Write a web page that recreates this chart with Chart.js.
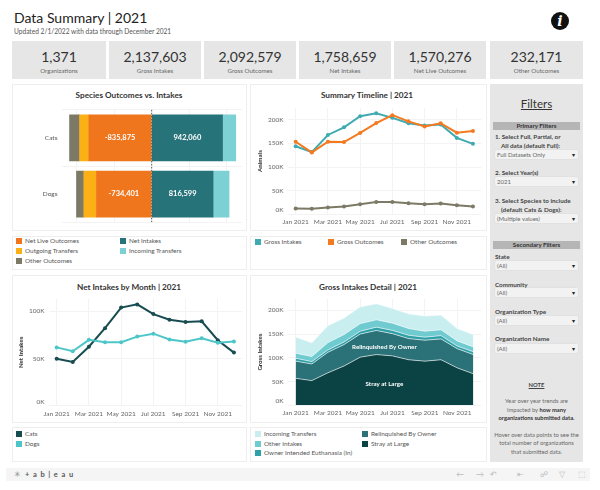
<!DOCTYPE html>
<html>
<head>
<meta charset="utf-8">
<title>Data Summary | 2021</title>
<script src="https://cdn.jsdelivr.net/npm/chart.js@4/dist/chart.umd.min.js"></script>
<style>
  html, body { margin: 0; padding: 0; background: #fff; }
  body { width: 600px; height: 490px; position: relative; overflow: hidden; font-family: Lato, sans-serif; color: #444; }
  .abs, .panel, .kpi, .txt, .drop, .bar, canvas, .leg { position: absolute; }
  canvas { display: block; }
  .panel { border: 1px solid #eee; box-sizing: border-box; background: #fff; }
  .kpi { background: #e6e6e6; top: 41px; height: 38px; text-align: center; }
  .kpi b { display: block; font-weight: 400; font-size: 14px; line-height: 16px; margin-top: 8px; color: #333; }
  .kpi span { display: block; font-size: 6.2px; line-height: 9px; margin-top: 1px; color: #666; }
  .ptitle { position: absolute; font-size: 8.2px; font-weight: 700; color: #333; text-align: center; transform: translateX(-50%); white-space: nowrap; line-height: 12px; }
  .leg { font-size: 6.4px; line-height: 10px; color: #555; white-space: nowrap; padding-left: 9px; }
  .leg i { position: absolute; left: 0; top: 2px; width: 6px; height: 6px; }
  .txt { font-size: 7px; line-height: 9px; white-space: nowrap; color: #333; }
  .filters { position: absolute; left: 490px; top: 84px; width: 93px; height: 378px; background: #e6e6e6; }
  .bar { left: 493px; width: 87px; height: 8px; background: #b5b5b5; font-size: 6.2px; line-height: 8px; text-align: center; color: #333; font-weight: 700; }
  .drop { left: 495px; width: 83px; height: 9px; background: #f2f2f2; border-radius: 1px; box-shadow: 0 0 1px #bbb; font-size: 6px; line-height: 9px; color: #666; text-indent: 2px; }
  .drop::after { content: "\25BE"; position: absolute; right: 3px; top: 0; color: #222; font-size: 6px; }
  .lab { font-weight: 700; font-size: 6.3px; color: #444; }
  .note { left: 490px; width: 93px; text-align: center; font-size: 5.8px; color: #666; }
  .toolbar { position: absolute; left: 6px; top: 468px; width: 584px; height: 13px; background: #f5f5f5; }
</style>
</head>
<body>
<script>
// Data
const months = ['Jan 2021', 'Feb 2021', 'Mar 2021', 'Apr 2021', 'May 2021', 'Jun 2021', 'Jul 2021', 'Aug 2021', 'Sep 2021', 'Oct 2021', 'Nov 2021', 'Dec 2021'];
const species = ['Cats', 'Dogs'];

const netLiveOutcomes = [-835875, -734401];
const outgoingTransfers = [-124000, -169000];
const otherOutcomesBySpecies = [-133000, -97000];
const netIntakes = [942060, 816599];
const incomingBySpecies = [176000, 213000];

const grossIntakes = [143800, 131500, 167800, 184000, 207500, 213700, 204000, 192500, 188000, 190000, 161600, 149000];
const grossOutcomes = [153400, 130800, 153400, 152700, 172000, 193000, 209600, 196600, 185600, 192500, 172600, 176000];
const otherOutcomes = [12300, 11600, 14400, 16400, 21200, 26000, 26000, 23300, 21200, 22600, 19200, 16400];

const catsNet = [49700, 46200, 62400, 82000, 103800, 107200, 96900, 91000, 88600, 89300, 69300, 56200];
const dogsNet = [61700, 57600, 69700, 67200, 67200, 73100, 76200, 70000, 67600, 71400, 66600, 67900];

const strayAtLarge = [56800, 52000, 68500, 82900, 101400, 106800, 104000, 95900, 93000, 95900, 78800, 66400];
const relinquished = [36200, 35000, 43100, 45100, 48600, 50700, 46700, 44500, 44000, 43800, 40400, 40400];
const ownerEuthanasia = [6000, 5000, 5000, 5500, 6000, 7000, 7000, 7000, 6500, 7000, 5500, 6000];
const otherIntakes = [10600, 10700, 15400, 15500, 16000, 15500, 15300, 14200, 12500, 12300, 10900, 10200];
const incomingTransfers = [34200, 28800, 35800, 35000, 35500, 33700, 31000, 30900, 32000, 31000, 26000, 26000];

const ticks200K = [0, 50000, 100000, 150000, 200000];
const ticks100K = [0, 50000, 100000];
const ticksSpecies = [-1000000, -500000, 0, 500000, 1000000];

const kpis = [
  ['1,371', 'Organizations'], ['2,137,603', 'Gross Intakes'], ['2,092,579', 'Gross Outcomes'],
  ['1,758,659', 'Net Intakes'], ['1,570,276', 'Net Live Outcomes'], ['232,171', 'Other Outcomes']
];

const FONT = 'Lato, sans-serif';
const GRID = '#f3f3f3';
const TICK = '#666';
const C = {
  orange: '#f0761e', yellow: '#fbb116', olive: '#7c7a66', teal: '#27737a', aqua: '#7dd0d4',
  line: '#3fabb0', lineOrange: '#f47920', cats: '#174c50', dogs: '#4dc6c9',
  stray: '#0b4345', relinq: '#2a7278', owner: '#2fa0a8', otherIn: '#6fcbd0', incoming: '#c9eef0'
};

function el(cls, css, html) {
  const d = document.createElement('div');
  d.className = cls;
  d.style.cssText = css;
  if (html) d.innerHTML = html;
  document.body.appendChild(d);
  return d;
}
function addCanvas(id, l, t, w, h) {
  const c = document.createElement('canvas');
  c.id = id;
  c.width = w; c.height = h;
  c.style.cssText = `left:${l}px;top:${t}px;width:${w}px;height:${h}px`;
  document.body.appendChild(c);
  return c;
}

// Header
el('txt', 'left:14px;top:7px;font-size:14px;line-height:22px;color:#222;font-weight:400', 'Data Summary | 2021');
el('txt', 'left:14px;top:27px;font-size:6.6px;line-height:9px;color:#555', 'Updated 2/1/2022 with data through December 2021');
el('abs', 'left:551px;top:12px;width:18px;height:18px;border-radius:50%;background:#111;color:#fff;text-align:center;font:italic bold 14px/18px "DejaVu Serif",serif', 'i');

const kpiX = [[12, 94], [109, 92], [204, 92], [299, 92], [394, 92], [490, 93]];
kpis.forEach((k, i) => {
  el('kpi', `left:${kpiX[i][0]}px;width:${kpiX[i][1]}px`, `<b>${k[0]}</b><span>${k[1]}</span>`);
});

// Panels
[[12, 84, 235, 147], [250, 84, 237, 147], [12, 236, 235, 34], [250, 236, 237, 34],
 [12, 275, 235, 148], [250, 275, 237, 148], [12, 427, 235, 35], [250, 427, 237, 35]].forEach(p => {
  el('panel', `left:${p[0]}px;top:${p[1]}px;width:${p[2]}px;height:${p[3]}px`);
});

el('ptitle', 'left:129px;top:89px', 'Species Outcomes vs. Intakes');
el('ptitle', 'left:367px;top:89px', 'Summary Timeline | 2021');
el('ptitle', 'left:129px;top:281px', 'Net Intakes by Month | 2021');
el('ptitle', 'left:368px;top:281px', 'Gross Intakes Detail | 2021');

// Legends
function legend(x, y, color, text) {
  el('leg', `left:${x}px;top:${y - 5}px`, `<i style="background:${color}"></i>${text}`);
}
legend(16, 241, C.orange, 'Net Live Outcomes');
legend(16, 251, C.yellow, 'Outgoing Transfers');
legend(16, 261, C.olive, 'Other Outcomes');
legend(120, 241, C.teal, 'Net Intakes');
legend(120, 251, C.aqua, 'Incoming Transfers');
legend(255, 242, C.line, 'Gross Intakes');
legend(328, 242, C.lineOrange, 'Gross Outcomes');
legend(401, 242, C.olive, 'Other Outcomes');
legend(16, 434, C.cats, 'Cats');
legend(16, 444, C.dogs, 'Dogs');
legend(255, 434, C.incoming, 'Incoming Transfers');
legend(255, 444, C.otherIn, 'Other Intakes');
legend(255, 453, C.owner, 'Owner Intended Euthanasia (In)');
legend(362, 434, C.relinq, 'Relinquished By Owner');
legend(362, 444, C.stray, 'Stray at Large');

// Filters column
el('filters', '');
el('txt', 'left:490px;width:93px;top:96px;text-align:center;font-size:11.5px;line-height:16px;text-decoration:underline;color:#333', 'Filters');
function bar(y, t) { el('bar', `top:${y}px`, t); }
function lab(y, t, x) { el('txt lab', `left:${x || 495}px;top:${y - 4}px`, t); }
function drop(y, t) { el('drop', `top:${y}px`, t); }
bar(122, 'Primary Filters');
lab(136, '1. Select Full, Partial, or');
lab(145, 'All data (default Full):', 501);
drop(150, 'Full Datasets Only');
lab(172, '2. Select Year(s)');
drop(177, '2021');
lab(200, '3. Select Species to include');
lab(209, '(default Cats &amp; Dogs):', 501);
drop(214, '(Multiple values)');
bar(241, 'Secondary Filters');
lab(256, 'State');
drop(261, '(All)');
lab(284, 'Community');
drop(288, '(All)');
lab(311, 'Organization Type');
drop(316, '(All)');
lab(338, 'Organization Name');
drop(344, '(All)');
el('txt note', 'top:380px;text-decoration:underline;font-weight:700;color:#444', 'NOTE');
el('txt note', 'top:396px', 'Year over year trends are');
el('txt note', 'top:405px', 'impacted by <b style="color:#333">how many</b>');
el('txt note', 'top:413px;font-weight:700;color:#333', 'organizations submitted data.');
el('txt note', 'top:430px', 'Hover over data points to see the');
el('txt note', 'top:438px', 'total number of organizations');
el('txt note', 'top:447px', 'that submitted data.');

// Toolbar
el('toolbar', '');
el('txt', 'left:14px;top:469px;font-size:8px;line-height:11px;color:#888', '\u2733');
el('txt', 'left:25px;top:469px;font-size:7.5px;line-height:11px;letter-spacing:0.9px;color:#555;font-weight:700', '+ a b | e a u');
[[456, '\u2190'], [476, '\u2192'], [490, '\u21B6'], [517, '\u21E4'], [540, '\u260D'], [559, '\u25BD'], [578, '\u2B1A']].forEach(g => {
  el('txt', `left:${g[0]}px;top:469px;font-size:8px;line-height:11px;color:#bbb`, g[1]);
});

const chartBase = {
  responsive: false,
  animation: false,
  events: [],
  plugins: { legend: { display: false }, tooltip: { enabled: false } }
};

function yAxis(width, max, values, title, titlePad) {
  return {
    min: 0, max: max,
    grid: { color: GRID, drawTicks: false },
    border: { display: false },
    afterBuildTicks: s => { s.ticks = values.map(value => ({ value })); },
    ticks: {
      padding: 4,
      color: TICK, font: { family: FONT, size: 6.5 },
      // Tableau lifts the 0K label above the baseline
      callback: v => v === 0 ? ['0K', ''] : (v / 1000) + 'K'
    },
    title: { display: true, text: title, color: '#333', font: { family: FONT, size: 6.2, weight: '700' }, padding: { top: titlePad, bottom: 0 } },
    afterFit: s => { s.width = width; }
  };
}
function xAxis(height) {
  return {
    offset: true,
    grid: { color: GRID, drawTicks: false, offset: false, lineWidth: ctx => ctx.index % 2 ? 0 : 1 },
    border: { display: false },
    ticks: {
      autoSkip: false, maxRotation: 0, padding: 4, color: TICK, font: { family: FONT, size: 6.5 },
      callback: function (v, i) { return i % 2 ? '' : this.getLabelForValue(v); }
    },
    afterFit: s => { s.height = height; }
  };
}
function lineSet(label, data, color) {
  return { label, data, borderColor: color, backgroundColor: color, borderWidth: 2, pointRadius: 2, pointBorderWidth: 0, tension: 0 };
}

// Values printed on the diverging bars + dotted zero line
const barExtras = {
  id: 'barExtras',
  afterDatasetsDraw(chart) {
    const { ctx, chartArea, scales } = chart;
    const x0 = scales.x.getPixelForValue(0);
    ctx.save();
    ctx.strokeStyle = '#555';
    ctx.setLineDash([1.5, 1.5]);
    ctx.beginPath();
    ctx.moveTo(x0, chartArea.top);
    ctx.lineTo(x0, chartArea.bottom);
    ctx.stroke();
    ctx.setLineDash([]);
    ctx.fillStyle = '#fff';
    ctx.font = 'bold 7.5px ' + FONT;
    ctx.textAlign = 'center';
    ctx.textBaseline = 'middle';
    [0, 3].forEach(di => {
      chart.getDatasetMeta(di).data.forEach((b, i) => {
        const v = chart.data.datasets[di].data[i];
        ctx.fillText(v.toLocaleString('en-US'), (b.x + b.base) / 2, b.y);
      });
    });
    ctx.restore();
  }
};

new Chart(addCanvas('speciesChart', 14, 102, 231, 128), {
  type: 'bar',
  data: {
    labels: species,
    datasets: [
      { label: 'Net Live Outcomes', data: netLiveOutcomes, backgroundColor: C.orange },
      { label: 'Outgoing Transfers', data: outgoingTransfers, backgroundColor: C.yellow },
      { label: 'Other Outcomes', data: otherOutcomesBySpecies, backgroundColor: C.olive },
      { label: 'Net Intakes', data: netIntakes, backgroundColor: C.teal },
      { label: 'Incoming Transfers', data: incomingBySpecies, backgroundColor: C.aqua }
    ]
  },
  options: {
    ...chartBase,
    indexAxis: 'y',
    barThickness: 46,
    layout: { padding: { top: 2, right: 3.1 } },
    scales: {
      x: {
        stacked: true, min: -1200000, max: 1200000,
        grid: { color: GRID, drawTicks: false }, border: { display: false },
        afterBuildTicks: s => { s.ticks = ticksSpecies.map(value => ({ value })); },
        ticks: { display: false },
        afterFit: s => { s.height = 0; }
      },
      y: {
        stacked: true,
        grid: { color: GRID, drawTicks: false }, border: { display: false },
        ticks: { padding: 4, color: '#555', font: { family: FONT, size: 6.5 } },
        afterFit: s => { s.width = 47.5; }
      }
    }
  },
  plugins: [barExtras]
});

new Chart(addCanvas('timelineChart', 252, 100, 233, 130), {
  type: 'line',
  data: {
    labels: months,
    datasets: [
      lineSet('Other Outcomes', otherOutcomes, C.olive),
      lineSet('Gross Outcomes', grossOutcomes, C.lineOrange),
      lineSet('Gross Intakes', grossIntakes, C.line)
    ]
  },
  options: {
    ...chartBase,
    layout: { padding: { top: 5, right: 3.6 } },
    scales: { x: xAxis(15.7), y: yAxis(35.6, 225000, ticks200K, 'Animals', 4) }
  }
});

new Chart(addCanvas('netChart', 14, 291, 232, 129), {
  type: 'line',
  data: {
    labels: months,
    datasets: [lineSet('Dogs', dogsNet, C.dogs), lineSet('Cats', catsNet, C.cats)]
  },
  options: {
    ...chartBase,
    layout: { padding: { top: 5, right: 3.6 } },
    scales: { x: xAxis(14.3), y: yAxis(34.6, 113000, ticks100K, 'Net Intakes', 3) }
  }
});

// Names on the big areas of the detail chart
const areaLabels = [
  { text: 'Relinquished By Owner', month: 'Jun 2021', value: 122600 },
  { text: 'Stray at Large', month: 'Jun 2021', value: 45000 }
];
const areaText = {
  id: 'areaText',
  afterDatasetsDraw(chart) {
    const { ctx, scales } = chart;
    ctx.save();
    ctx.fillStyle = '#fff';
    ctx.font = 'bold 6.2px ' + FONT;
    ctx.textAlign = 'center';
    ctx.textBaseline = 'middle';
    areaLabels.forEach(a => {
      ctx.fillText(a.text, scales.x.getPixelForValue(a.month) + 8, scales.y.getPixelForValue(a.value));
    });
    ctx.restore();
  }
};
function areaSet(label, data, color, fill) {
  return { label, data, backgroundColor: color, borderColor: 'rgba(255,255,255,0.6)', borderWidth: 1, pointRadius: 0, tension: 0, fill };
}

new Chart(addCanvas('detailChart', 252, 291, 233, 129), {
  type: 'line',
  data: {
    labels: months,
    datasets: [
      areaSet('Stray at Large', strayAtLarge, C.stray, 'origin'),
      areaSet('Relinquished By Owner', relinquished, C.relinq, '-1'),
      areaSet('Owner Intended Euthanasia (In)', ownerEuthanasia, C.owner, '-1'),
      areaSet('Other Intakes', otherIntakes, C.otherIn, '-1'),
      areaSet('Incoming Transfers', incomingTransfers, C.incoming, '-1')
    ]
  },
  options: {
    ...chartBase,
    layout: { padding: { top: 5, right: 3.6 } },
    scales: {
      x: xAxis(14.7),
      y: { ...yAxis(35.6, 224000, ticks200K, 'Gross Intakes', 4), stacked: true }
    }
  },
  plugins: [areaText]
});
</script>
</body>
</html>
